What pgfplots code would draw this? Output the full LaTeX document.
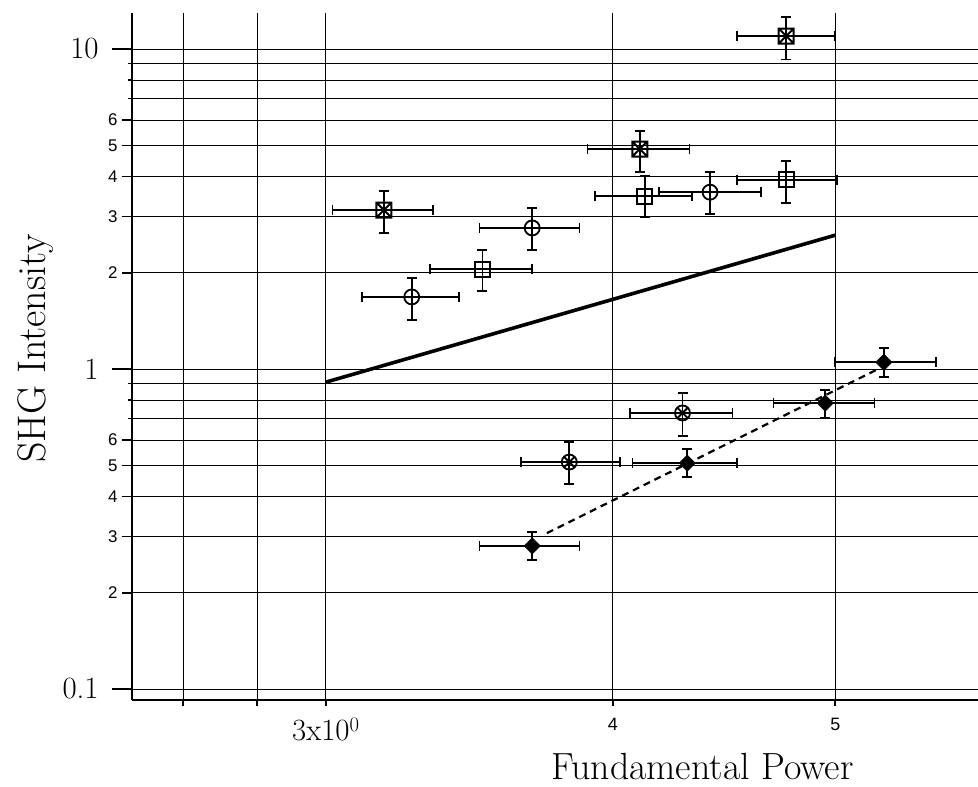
\documentclass[border=0pt]{standalone}
\usepackage{pgfplots}
\pgfplotsset{compat=1.18}
\usepackage{fontspec}
\newfontfamily\sansf{Liberation Sans}
\usetikzlibrary{plotmarks}

\pgfdeclareplotmark{boxx}{%
  \pgfpathrectangle{\pgfpoint{-\pgfplotmarksize}{-\pgfplotmarksize}}{\pgfpoint{2\pgfplotmarksize}{2\pgfplotmarksize}}%
  \pgfpathmoveto{\pgfpoint{-\pgfplotmarksize}{-\pgfplotmarksize}}%
  \pgfpathlineto{\pgfpoint{\pgfplotmarksize}{\pgfplotmarksize}}%
  \pgfpathmoveto{\pgfpoint{-\pgfplotmarksize}{\pgfplotmarksize}}%
  \pgfpathlineto{\pgfpoint{\pgfplotmarksize}{-\pgfplotmarksize}}%
  \pgfusepathqstroke}
\pgfdeclareplotmark{circx}{%
  \pgfpathcircle{\pgfpointorigin}{\pgfplotmarksize}%
  \pgfpathmoveto{\pgfpoint{-0.707\pgfplotmarksize}{-0.707\pgfplotmarksize}}%
  \pgfpathlineto{\pgfpoint{0.707\pgfplotmarksize}{0.707\pgfplotmarksize}}%
  \pgfpathmoveto{\pgfpoint{-0.707\pgfplotmarksize}{0.707\pgfplotmarksize}}%
  \pgfpathlineto{\pgfpoint{0.707\pgfplotmarksize}{-0.707\pgfplotmarksize}}%
  \pgfusepathqstroke}

\pgfplotstableread{
x y xp xm yp ym
3.18 3.14 0.16 0.16 0.46 0.48
4.11 4.87 0.21 0.21 0.67 0.74
4.76 10.98 0.24 0.23 1.6 1.7
}\boxxdata
\pgfplotstableread{
x y xp xm yp ym
3.51 2.05 0.18 0.18 0.30 0.30
4.13 3.47 0.20 0.20 0.54 0.49
4.76 3.90 0.25 0.23 0.57 0.60
}\boxdata
\pgfplotstableread{
x y xp xm yp ym
3.27 1.68 0.16 0.16 0.25 0.26
3.69 2.76 0.18 0.19 0.42 0.40
4.41 3.57 0.23 0.22 0.56 0.52
}\circdata
\pgfplotstableread{
x y xp xm yp ym
3.83 0.512 0.20 0.18 0.079 0.075
4.29 0.729 0.22 0.22 0.112 0.111
}\circxdata
\pgfplotstableread{
x y xp xm yp ym
3.69 0.280 0.18 0.19 0.030 0.027
4.31 0.508 0.22 0.23 0.054 0.048
4.95 0.783 0.25 0.25 0.077 0.080
5.25 1.05 0.28 0.25 0.113 0.106
}\diamdata

\pgfplotsset{
  eb/.style={only marks, black,
    error bars/x dir=both, error bars/y dir=both,
    error bars/x explicit, error bars/y explicit,
    error bars/error mark=-,
    error bars/error bar style={line width=1.7bp, black, solid},
    error bars/error mark options={rotate=90, line width=1.7bp, mark size=5bp, black, solid}},
}

\begin{document}
\begin{tikzpicture}[x=1bp,y=1bp]
\begin{axis}[
  at={(0,0)}, anchor=south west,
  scale only axis, width=846bp, height=687bp,
  xmode=log, ymode=log,
  xmin=2.47, xmax=5.77, ymin=0.0924, ymax=12.96,
  clip=false,
  axis x line*=bottom, axis y line*=left,
  axis line style={line width=2.2bp, black, -},
  tick align=outside,
  tick style={black, line width=1.6bp},
  major tick length=20bp, minor tick length=4bp,
  xtick={2.6,2.8}, xticklabels={,},
  xtick style={/pgfplots/major tick length=6bp},
  extra x ticks={3,4,5},
  extra x tick labels={{\fontsize{31}{34}\selectfont 3x10$^{0}$},{\sansf 4},{\sansf 5}},
  extra x tick style={grid=major, major tick length=11bp,
    tick label style={font=\fontsize{18}{20}\selectfont, yshift=-4bp}},
  ytick={0.1,1,10}, yticklabels={0.1,1,10},
  yticklabel style={xshift=-10bp},
  extra y ticks={0.2,0.3,0.4,0.5,0.6,2,3,4,5,6},
  extra y tick labels={\sansf 2,\sansf 3,\sansf 4,\sansf 5,\sansf 6,\sansf 2,\sansf 3,\sansf 4,\sansf 5,\sansf 6},
  extra y tick style={grid=major, major tick length=10bp,
    tick label style={font=\fontsize{17}{20}\selectfont, xshift=9bp}},
  minor ytick={0.7,0.8,0.9,7,8,9},
  grid=both,
  major grid style={black, line width=1bp},
  minor grid style={black, line width=1bp},
  tick label style={font=\fontsize{31}{34}\selectfont},
  every axis x label/.style={at={(axis description cs:0.6744,-0.1164)}, anchor=base, font=\fontsize{38}{42}\selectfont},
  every axis y label/.style={at={(axis description cs:-0.1028,0.5117)}, rotate=90, anchor=base, font=\fontsize{40}{44}\selectfont},
  xlabel={Fundamental Power},
  ylabel={SHG Intensity},
]
\addplot[black, line width=3.6bp, no marks] coordinates {(3,0.91) (5,2.62)};
\addplot[black, line width=2.2bp, dash pattern=on 7bp off 5bp, no marks] coordinates {(3.745,0.307) (5.23,1.007)};

\addplot[eb, mark=boxx, mark size=7.5bp, mark options={line width=2bp, solid}]
  table[x=x, y=y, x error plus=xp, x error minus=xm, y error plus=yp, y error minus=ym] {\boxxdata};
\addplot[eb, mark=square, mark size=7.5bp, mark options={line width=1.8bp, solid}]
  table[x=x, y=y, x error plus=xp, x error minus=xm, y error plus=yp, y error minus=ym] {\boxdata};
\addplot[eb, mark=o, mark size=7.5bp, mark options={line width=1.8bp, solid}]
  table[x=x, y=y, x error plus=xp, x error minus=xm, y error plus=yp, y error minus=ym] {\circdata};
\addplot[eb, mark=circx, mark size=7.5bp, mark options={line width=1.8bp, solid}]
  table[x=x, y=y, x error plus=xp, x error minus=xm, y error plus=yp, y error minus=ym] {\circxdata};
\addplot[eb, mark=square*, mark size=5.8bp, mark options={rotate=45, fill=black, solid}]
  table[x=x, y=y, x error plus=xp, x error minus=xm, y error plus=yp, y error minus=ym] {\diamdata};
\end{axis}
\pgfresetboundingbox
\path[use as bounding box] (-132bp,-87bp) rectangle (846bp,700bp);
\end{tikzpicture}
\end{document}
